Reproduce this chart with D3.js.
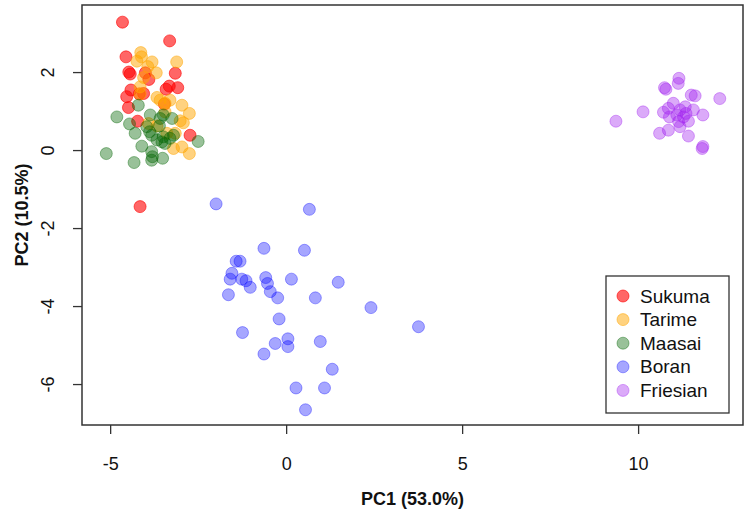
<!DOCTYPE html>
<html>
<head>
<meta charset="utf-8">
<script src="https://cdn.jsdelivr.net/npm/d3@7"></script>
<style>
  body { margin: 0; background: #fff; }
  text { font-family: "Liberation Sans", Arial, sans-serif; fill: #111; }
</style>
</head>
<body>
<script>
// PCA scatter: PC1 vs PC2 for five cattle breeds

// Data
let breeds = ["Sukuma", "Tarime", "Maasai", "Boran", "Friesian"];
let breedColors = ["#ff0000", "#ffa500", "#006400", "#0000ff", "#a020f0"];
let breedAlpha = [0.6, 0.5, 0.4, 0.35, 0.38];

let sukumaX = [-4.65, -3.31, -4.55, -4.47, -4.43, -3.90, -3.15, -3.41, -3.32, -3.08, -4.41, -4.53, -4.17, -4.05, -3.46, -4.48, -4.22, -2.73, -4.15, -4.00];
let sukumaY = [3.28, 2.80, 2.39, 2.00, 1.95, 1.81, 1.97, 1.56, 1.64, 1.60, 1.54, 1.37, 1.44, 1.45, 1.18, 1.09, 0.74, 0.38, -1.45, 1.98];

let tarimeX = [-4.13, -4.11, -4.24, -3.81, -3.93, -3.69, -3.11, -4.15, -3.67, -3.58, -3.30, -2.96, -2.75, -3.44, -3.01, -2.92, -3.91, -3.67, -3.20, -2.96, -2.75, -3.39, -4.05, -3.44, -4.15, -3.15];
let tarimeY = [2.50, 2.39, 2.28, 2.26, 2.14, 1.98, 2.26, 1.62, 1.35, 1.28, 1.28, 1.15, 0.94, 0.98, 0.75, 0.70, 0.68, 0.62, 0.04, 0.08, -0.09, 0.43, 1.86, 1.20, 1.44, 0.43];

let maasaiX = [-5.11, -4.81, -4.45, -4.29, -4.32, -4.20, -4.10, -3.86, -3.88, -3.82, -3.82, -3.80, -3.82, -3.51, -3.58, -3.49, -3.24, -3.96, -3.60, -3.49, -3.44, -3.30, -3.20, -2.50, -3.53, -3.67];
let maasaiY = [-0.09, 0.85, 0.67, 0.43, -0.32, 1.15, 0.10, 0.90, 0.47, 0.38, -0.04, -0.17, -0.26, -0.21, 0.81, 0.90, 0.81, 0.60, 0.62, 0.34, 0.17, 0.30, 0.38, 0.22, 0.21, 0.26];

let boranX = [-1.99, 0.66, -0.63, 0.52, -1.42, -1.31, -1.54, -1.59, -1.26, -1.14, -1.02, -0.58, -0.53, -0.45, -0.24, 0.15, 1.48, -1.64, 0.83, 2.41, 3.76, -0.20, -1.24, 0.05, 0.05, -0.31, 0.97, -0.63, 1.31, 0.28, 1.09, 0.55];
let boranY = [-1.38, -1.52, -2.52, -2.57, -2.85, -2.85, -3.16, -3.31, -3.31, -3.35, -3.52, -3.27, -3.42, -3.63, -3.79, -3.31, -3.39, -3.71, -3.79, -4.04, -4.53, -4.33, -4.68, -4.84, -5.04, -4.96, -4.91, -5.23, -5.62, -6.10, -6.10, -6.66];

let friesianX = [9.37, 10.14, 10.75, 10.79, 11.16, 11.14, 11.51, 11.62, 12.32, 10.72, 10.86, 11.00, 11.19, 11.34, 11.10, 11.29, 11.43, 11.15, 11.19, 11.57, 11.84, 10.61, 10.86, 11.43, 11.84, 11.82, 10.89, 11.36];
let friesianY = [0.74, 0.98, 1.60, 1.56, 1.84, 1.71, 1.41, 1.39, 1.32, 0.97, 1.07, 1.20, 1.03, 1.11, 0.90, 0.85, 0.74, 0.73, 0.60, 1.03, 0.90, 0.43, 0.51, 0.36, 0.09, 0.04, 0.85, 0.94];

let xTicks = [-5, 0, 5, 10];
let yTicks = [2, 0, -2, -4, -6];

// SVG params
let svgWidth = 750;
let svgHeight = 516;
let margin = { top: 5, right: 7, bottom: 91, left: 82 };
let width = svgWidth - margin.left - margin.right;
let height = svgHeight - margin.top - margin.bottom;

let svg = d3.select("body")
    .append("svg")
    .attr("width", svgWidth)
    .attr("height", svgHeight);

let chartGroup = svg.append("g")
    .attr("transform", `translate(${margin.left}, ${margin.top})`);

// Scales
let xScale = d3.scaleLinear()
    .domain([-5.80, 12.98])
    .range([0, width]);

let yScale = d3.scaleLinear()
    .domain([-7.05, 3.72])
    .range([height, 0]);

// Build the point table
let xs = [sukumaX, tarimeX, maasaiX, boranX, friesianX];
let ys = [sukumaY, tarimeY, maasaiY, boranY, friesianY];
let points = [];
breeds.forEach((b, i) => {
    xs[i].forEach((x, j) => points.push({ breed: i, x: x, y: ys[i][j] }));
});

// Axes (plain hyphen for negatives, like R)
let xAxis = d3.axisBottom(xScale).tickValues(xTicks).tickSize(9).tickPadding(20).tickFormat(d => String(d));
let yAxis = d3.axisLeft(yScale).tickValues(yTicks).tickSize(9).tickPadding(12).tickFormat(d => String(d));

let gx = chartGroup.append("g")
    .attr("transform", `translate(0, ${height})`)
    .call(xAxis);
let gy = chartGroup.append("g")
    .call(yAxis);

[gx, gy].forEach(g => {
    g.select(".domain").remove();
    g.selectAll("line").attr("stroke", "#333").attr("stroke-width", 1.3);
    g.selectAll("text")
        .attr("fill", "#111")
        .style("font-family", "Liberation Sans, Arial, sans-serif")
        .style("font-size", "18px");
});
gx.selectAll("text").attr("dy", "0.9em");

// y labels run along the axis (R style)
gy.selectAll(".tick text")
    .attr("x", null)
    .attr("dy", null)
    .attr("text-anchor", "middle")
    .attr("transform", "translate(-28, 0) rotate(-90)")
    .attr("y", 0);

// Points
chartGroup.selectAll("circle.pt")
    .data(points)
    .enter()
    .append("circle")
    .attr("class", "pt")
    .attr("cx", d => xScale(d.x))
    .attr("cy", d => yScale(d.y))
    .attr("r", 6)
    .attr("fill", d => breedColors[d.breed])
    .attr("fill-opacity", d => breedAlpha[d.breed])
    .attr("stroke", d => breedColors[d.breed])
    .attr("stroke-opacity", d => breedAlpha[d.breed])
    .attr("stroke-width", 1);

// Plot frame
chartGroup.append("rect")
    .attr("width", width)
    .attr("height", height)
    .attr("fill", "none")
    .attr("stroke", "#333")
    .attr("stroke-width", 1.5);

// Legend
let legend = chartGroup.append("g")
    .attr("transform", `translate(${524}, ${271})`);

legend.append("rect")
    .attr("width", 123)
    .attr("height", 137)
    .attr("fill", "#fff")
    .attr("stroke", "#333")
    .attr("stroke-width", 1.3);

let items = legend.selectAll("g.item")
    .data(breeds)
    .enter()
    .append("g")
    .attr("class", "item")
    .attr("transform", (d, i) => `translate(0, ${20 + i * 23.6})`);

items.append("circle")
    .attr("cx", 17)
    .attr("r", 6)
    .attr("fill", (d, i) => breedColors[i])
    .attr("fill-opacity", (d, i) => breedAlpha[i])
    .attr("stroke", (d, i) => breedColors[i])
    .attr("stroke-opacity", (d, i) => breedAlpha[i]);

items.append("text")
    .attr("x", 34)
    .attr("dy", "0.35em")
    .style("font-size", "19px")
    .text(d => d);

// Axis titles
chartGroup.append("text")
    .attr("x", width / 2)
    .attr("y", height + 80)
    .attr("text-anchor", "middle")
    .style("font-size", "18px")
    .style("font-weight", "bold")
    .text("PC1 (53.0%)");

chartGroup.append("text")
    .attr("transform", `translate(${-60}, ${height / 2}) rotate(-90)`)
    .attr("text-anchor", "middle")
    .attr("dy", "0.35em")
    .style("font-size", "18px")
    .style("font-weight", "bold")
    .text("PC2 (10.5%)");
</script>
</body>
</html>
